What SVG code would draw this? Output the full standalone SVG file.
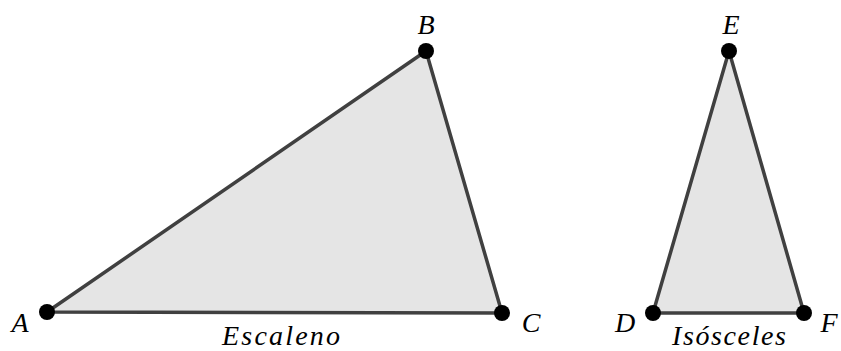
<svg xmlns="http://www.w3.org/2000/svg" width="841" height="351" viewBox="0 0 841 351">
<style>
.tri{fill:#e5e5e5;stroke:#404040;stroke-width:3.5;stroke-linejoin:round}
.pt{fill:#000}
.lb{font-family:"Liberation Serif",serif;font-style:italic;font-size:28px;fill:#000}
</style>
<rect width="841" height="351" fill="#fff"/>
<g id="edges">
<polygon class="tri" points="47,312 426,51 502,313"/>
<polygon class="tri" points="653,313 729,51 804,313"/>
</g>
<g id="A"><circle class="pt" cx="47" cy="312" r="8"/><text class="lb" x="20" y="332" text-anchor="middle">A</text></g>
<g id="B"><circle class="pt" cx="426" cy="51" r="8"/><text class="lb" x="426" y="34" text-anchor="middle">B</text></g>
<g id="C"><circle class="pt" cx="502" cy="313" r="8"/><text class="lb" x="531" y="332" text-anchor="middle">C</text></g>
<g id="D"><circle class="pt" cx="653" cy="313" r="8"/><text class="lb" x="625" y="332" text-anchor="middle">D</text></g>
<g id="E"><circle class="pt" cx="729" cy="51" r="8"/><text class="lb" x="731" y="34" text-anchor="middle">E</text></g>
<g id="F"><circle class="pt" cx="804" cy="313" r="8"/><text class="lb" x="829" y="332" text-anchor="middle">F</text></g>
<text class="lb" x="222" y="345" textLength="118" lengthAdjust="spacing">Escaleno</text>
<text class="lb" x="672" y="345" textLength="114" lengthAdjust="spacing">Isósceles</text>
</svg>
